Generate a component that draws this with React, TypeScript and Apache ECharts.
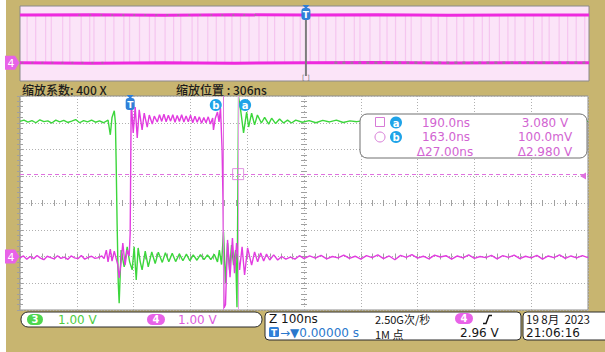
import React, { useEffect, useRef } from "react";
import * as echarts from "echarts";

// Horizontal: 100 ns/div, 10 divisions, left edge 194 ns before trigger.
const NS_PER_DIV = 100;
const SCREEN_LEFT_NS = -194;
const V_MIN = -2;
const V_MAX = 6;

const zoomFactor = "400 X";
const zoomPosition = "306ns";
const ch3Scale = "1.00 V";
const ch4Scale = "1.00 V";
const timeBase = "100ns";
const sampleRate = "2.50G次/秒";
const trigOffset = "0.00000 s";
const memDepth = "1M 点";
const trigLevel = "2.96 V";
const dateText = "19 8月  2023";
const timeText = "21:06:16";

const cursorA = { t: 190.0, v: 3.08 };
const cursorB = { t: 163.0, v: 0.1 };

// CH3 (green) [ns, V]
const ch3Wave: [number, number][] = [
  [-194, 5.05], [-187, 5.1], [-180, 5.02], [-173, 5.08], [-166, 5.0], [-159, 5.11],
  [-152, 5.04], [-145, 5.07], [-138, 4.99], [-131, 5.1], [-124, 5.03], [-117, 5.09],
  [-110, 5.01], [-103, 5.06], [-96, 5.12], [-89, 5.0], [-82, 5.08], [-75, 5.03],
  [-68, 5.1], [-61, 5.02], [-54, 5.07], [-47, 5.0],
  [-39, 5.1], [-35, 4.55], [-32, 5.2], [-28, 5.45], [-26, 5.0], [-24.7, 3.5], [-23, 1.2], [-21, -1.0], [-19.4, -1.75],
  [-16, 0.24], [-10.6, -0.39], [-5.3, 0.36], [-1, -0.2], [3.5, -0.5], [7, 0.36], [10.6, -0.88], [14, 0.32],
  [17.7, -0.2], [21, -0.5], [26.5, 0.2], [31.8, -0.39], [38, 0.17], [44, -0.26], [49.5, 0.16], [56.5, -0.22],
  [62, 0.14], [68, -0.2], [74, 0.12], [80, -0.19], [86.6, 0.1], [92.8, -0.16], [99, 0.09], [105, -0.16],
  [111, 0.06], [117.5, -0.14], [123.7, 0.07], [130, -0.12], [136, 0.06], [142, -0.12], [148, 0.08], [153.7, -0.2],
  [157, 0.24], [160.8, -0.3], [164.3, 0.92], [167.8, -1.0], [171.4, 0.5], [175, -0.5], [178.4, 0.43], [182, -0.32],
  [185.5, 0.24], [188, -1.9], [190.8, 5.96], [194, 5.55], [199.6, 4.62], [205, 5.4], [208.5, 4.84], [213.8, 5.36],
  [219, 4.92], [224, 5.29], [231, 4.99], [236.7, 5.2], [243.8, 4.95], [249, 5.17], [256, 4.97], [263, 5.14],
  [270, 4.99], [277, 5.1], [284, 4.99], [291.5, 5.1], [303, 5.02], [315, 5.08], [327, 5.0], [339, 5.09],
  [351, 5.03], [363, 5.1], [375, 5.01], [387, 5.07], [399, 5.04], [411, 5.08], [450, 5.05], [550, 5.05],
  [650, 5.05], [806, 5.05],
];

// CH4 (magenta) [ns, V]
const ch4Wave: [number, number][] = [
  [-194, -0.05], [-188, 0.02], [-182, -0.1], [-176, 0.0], [-170, -0.08], [-164, 0.04], [-158, -0.06],
  [-152, -0.12], [-146, 0.01], [-140, -0.04], [-134, -0.09], [-128, 0.03], [-122, -0.07], [-116, -0.02],
  [-110, -0.11], [-104, 0.02], [-98, -0.05], [-92, -0.08], [-86, 0.04], [-80, -0.1], [-74, -0.03],
  [-68, 0.01], [-62, -0.07], [-56, -0.04], [-50, 0.02], [-46, -0.08],
  [-42, 0.24], [-39, -0.2], [-35, 0.28], [-32, -0.17], [-28, 0.2], [-25, -0.05], [-22, -0.3], [-19.4, -0.8],
  [-16, -0.2], [-13, 0.5], [-9, -0.32], [-5.3, 0.24], [-1.8, 0.02], [0, 0.88], [1.8, 5.85], [5.3, 4.62],
  [8.8, 5.59], [12.4, 4.43], [15.9, 5.48], [21, 4.73], [24.7, 5.36], [30, 4.84], [33.6, 5.29], [38.9, 4.95],
  [42.4, 5.25], [47.7, 5.03], [51.6, 5.3], [55.5, 5.05], [59.4, 5.32], [63.3, 5.04], [67.2, 5.28], [71.1, 5.06],
  [75, 5.3], [78.9, 5.02], [82.8, 5.27], [86.7, 5.05], [90.6, 5.3], [94.5, 5.03], [98.4, 5.25], [102.3, 5.04],
  [106.2, 5.28], [110.1, 5.0], [114, 5.24], [117.9, 5.02], [121.8, 5.22], [125.7, 4.98], [129.6, 5.2],
  [133.5, 5.0], [137.4, 5.22], [141.3, 4.95], [145.2, 5.18], [146.6, 4.73], [150, 5.18], [153.7, 5.4],
  [156.4, 5.03], [159, 5.55], [161.8, 3.98], [163.4, 2.1], [165.2, -1.92], [167.8, -1.8], [171.4, 0.62],
  [175.8, -0.77], [180, 0.69], [183.7, -0.62], [187.3, 0.5], [192.6, -0.5], [197, 0.36], [201.4, -0.69],
  [206.7, 0.32], [213.8, -0.32], [219, 0.17], [224.4, -0.2], [229.7, 0.13], [235, -0.17], [240, 0.09],
  [245.6, -0.13], [252.7, 0.06], [259.7, -0.13], [266.8, 0.0], [274, -0.1],
  [282, -0.02], [290, -0.1], [298, 0.03], [306, -0.08], [316, 0.02], [326, -0.06], [336, 0.04], [346, -0.09],
  [356, 0.0], [366, -0.05], [376, 0.05], [386, -0.07], [396, 0.01], [406, -0.1], [416, 0.03], [426, -0.04],
  [436, 0.06], [446, -0.08], [456, 0.02], [466, -0.12], [476, 0.04], [486, -0.03], [496, 0.07], [506, -0.06],
  [516, 0.01], [526, -0.09], [536, 0.05], [546, -0.02], [556, 0.03], [566, -0.1], [576, 0.02], [586, -0.05],
  [596, 0.06], [606, -0.07], [616, 0.0], [626, -0.04], [636, 0.04], [646, -0.09], [656, 0.03], [666, -0.03],
  [676, 0.05], [686, -0.08], [696, 0.01], [706, -0.05], [716, 0.04], [726, -0.1], [736, 0.02], [746, -0.04],
  [756, 0.06], [766, -0.07], [776, 0.02], [786, -0.05], [796, 0.03], [806, -0.04],
];

// Overview window (µs): edge times of the compressed CH4 record
const overviewEdgesUs = [
  -196, -190, -183, -179, -171, -166, -158, -152, -149, -141, -135, -128, -124, -117, -110, -106,
  -99, -93, -88, -80, -76, -69, -63, -57, -52, -46, -40, -33, -27, -22, -15, -9, -4, 3, 9, 14, 21,
  27, 34, 38, 45, 52, 57, 63, 70, 74, 81, 88, 93, 99, 106, 111, 118, 124, 129, 136, 142, 147, 154,
  160, 166, 171, 178, 184, 190, 196,
];
const overviewHigh: [number, number][] = [
  [-201, 5.0], [-150, 5.04], [-100, 4.98], [-50, 5.03], [0, 5.0], [50, 5.04], [100, 4.98], [150, 5.02], [199, 5.0],
];
const overviewLow: [number, number][] = [
  [-201, 0.0], [-150, -0.04], [-100, 0.02], [-50, -0.03], [0, 0.0], [50, 0.03], [100, -0.02], [150, 0.02], [199, 0.0],
];

const FONT = '"DejaVu Sans", "Noto Sans CJK SC", sans-serif';
const CJK = '"Noto Sans CJK SC", "DejaVu Sans", sans-serif';
const GREEN = "#3cd63c";
const MAGENTA = "#e23ce0";
const CURSOR_TXT = "#d264d2";
const BLUE_DOT = "#1fa3e8";

const toDiv = (t: number) => (t - SCREEN_LEFT_NS) / NS_PER_DIV;

const tickAxis = {
  axisLine: { show: false },
  axisLabel: { show: false },
  axisTick: { show: true, inside: true, length: 3, lineStyle: { color: "#a0a0a0" } },
  minorTick: { show: true, splitNumber: 5, length: 3, lineStyle: { color: "#a0a0a0" } },
  splitLine: { show: false },
};

function buildOption(): any {
  const stripes: [number, number][] = [];
  overviewEdgesUs.forEach((e, i) => {
    if (i % 2 === 0) stripes.push([e, 0], [e, 5]);
    else stripes.push([e, 5], [e, 0]);
  });
  const xMain = { gridIndex: 1, type: "value", min: 0, max: 10, interval: 1 };
  const yMain = { gridIndex: 1, type: "value", min: V_MIN, max: V_MAX, interval: 1 };
  const dotted = { show: true, lineStyle: { color: "#b0b0b0", type: [1, 2], width: 1 } };
  return {
    animation: false,
    backgroundColor: "#c8b570",
    grid: [
      { left: 20, top: 6, width: 569, height: 75, show: true, backgroundColor: "#fbe4f8", borderColor: "#8a8a8a", borderWidth: 1 },
      { left: 20, top: 96, width: 568, height: 214, show: true, backgroundColor: "#ffffff", borderColor: "#8c8c8c", borderWidth: 1 },
    ],
    xAxis: [
      { gridIndex: 0, type: "value", min: -201, max: 199, show: false },
      { ...xMain, position: "bottom", ...tickAxis, splitLine: dotted },
      { ...xMain, position: "top", ...tickAxis },
      { ...xMain, position: "bottom", offset: -107, ...tickAxis },
      { ...xMain, position: "top", offset: -107, ...tickAxis },
    ],
    yAxis: [
      { gridIndex: 0, type: "value", min: -1.9, max: 5.95, show: false },
      { ...yMain, position: "left", ...tickAxis, splitLine: dotted },
      { ...yMain, position: "right", ...tickAxis },
      { ...yMain, position: "left", offset: -284, ...tickAxis },
      { ...yMain, position: "right", offset: -284, ...tickAxis },
    ],
    series: [
      {
        type: "line", xAxisIndex: 0, yAxisIndex: 0, data: stripes, showSymbol: false, silent: true,
        lineStyle: { color: "#f2b8eb", width: 1.2, opacity: 0.7 }, z: 2,
      },
      {
        type: "line", xAxisIndex: 0, yAxisIndex: 0, data: overviewHigh, showSymbol: false, silent: true,
        lineStyle: { color: "#ee2ade", width: 3 }, z: 3,
      },
      {
        type: "line", xAxisIndex: 0, yAxisIndex: 0, data: overviewLow, showSymbol: false, silent: true,
        lineStyle: { color: "#ee2ade", width: 3 }, z: 3,
      },
      {
        type: "line", xAxisIndex: 0, yAxisIndex: 0, data: [[-160, 5], [-30, 5]], showSymbol: false, silent: true,
        lineStyle: { color: "#8f8a8f", width: 2, type: [2, 9], opacity: 0.7 }, z: 4,
      },
      {
        type: "line", xAxisIndex: 0, yAxisIndex: 0, data: [[20, 0], [199, 0]], showSymbol: false, silent: true,
        lineStyle: { color: "#8f8a8f", width: 2.5, type: [3, 5], opacity: 0.8 }, z: 4,
      },
      {
        type: "line", xAxisIndex: 0, yAxisIndex: 0, data: [[-200, 0], [-140, 0]], showSymbol: false, silent: true,
        lineStyle: { color: "#8f8a8f", width: 2, type: [2, 8], opacity: 0.7 }, z: 4,
      },
      {
        // cursor lines
        type: "line", xAxisIndex: 1, yAxisIndex: 1, data: [], z: 1, silent: true,
        markLine: {
          silent: true, symbol: ["none", "none"], label: { show: false },
          data: [
            { xAxis: toDiv(cursorA.t), lineStyle: { color: "#e6a0e6", type: "solid", width: 1 } },
            { xAxis: toDiv(cursorB.t), lineStyle: { color: "#e078e0", type: "solid", width: 1 } },
            { yAxis: cursorA.v, lineStyle: { color: "#e070e0", type: [4, 3], width: 1 } },
          ],
        },
      },
      {
        type: "line", xAxisIndex: 1, yAxisIndex: 1, showSymbol: false, silent: true, z: 3,
        data: ch3Wave.map(([t, v]) => [toDiv(t), v]),
        lineStyle: { color: GREEN, width: 1.4 },
      },
      {
        type: "line", xAxisIndex: 1, yAxisIndex: 1, showSymbol: false, silent: true, z: 4,
        data: ch4Wave.map(([t, v]) => [toDiv(t), v]),
        lineStyle: { color: MAGENTA, width: 1.4 },
      },
      {
        type: "scatter", xAxisIndex: 1, yAxisIndex: 1, silent: true, z: 5,
        data: [[toDiv(cursorA.t), cursorA.v]], symbol: "rect", symbolSize: 11,
        itemStyle: { color: "rgba(0,0,0,0)", borderColor: "#d87ad8", borderWidth: 1 },
      },
    ],
  };
}

function txt(x: number, y: number, text: string, fill: string, opts: any = {}) {
  const align = opts.align || "left";
  const size = opts.size || 12;
  return {
    type: "text", x, y, z: 70, silent: true,
    style: {
      text, fill,
      font: `${opts.weight || "normal"} ${size}px ${opts.family || FONT}`,
      lineHeight: size,
      align, textAlign: align, verticalAlign: "middle", textVerticalAlign: "middle",
    },
  };
}

function pill(x: number, y: number, w: number, color: string, label: string) {
  return [
    { type: "rect", z: 60, silent: true, shape: { x, y, width: w, height: 11, r: 5.5 }, style: { fill: color } },
    txt(x + w / 2, y + 5.8, label, "#ffffff", { size: 10, weight: "bold", align: "center" }),
  ];
}

function dot(cx: number, cy: number, label: string) {
  return [
    { type: "circle", z: 60, silent: true, shape: { cx, cy, r: 6 }, style: { fill: BLUE_DOT } },
    txt(cx, cy + 0.5, label, "#ffffff", { size: 10, weight: "bold", align: "center" }),
  ];
}

function tPin(cx: number, top: number) {
  return [
    { type: "polygon", z: 61, silent: true, shape: { points: [[cx - 3.5, top], [cx + 3.5, top], [cx, top + 4]] }, style: { fill: "#2f7fd8" } },
    { type: "rect", z: 61, silent: true, shape: { x: cx - 4.5, y: top + 3, width: 9, height: 12, r: 3 }, style: { fill: "#2f7fd8" } },
    txt(cx, top + 9.5, "T", "#ffffff", { size: 9, weight: "bold", align: "center" }),
  ];
}

function chMarker(y: number) {
  return [
    {
      type: "polygon", z: 61, silent: true,
      shape: { points: [[5, y - 7], [15, y - 7], [19.5, y], [15, y + 7], [5, y + 7]] },
      style: { fill: "#e862e8" },
    },
    txt(11, y + 0.5, "4", "#ffffff", { size: 11, align: "center" }),
  ];
}

function buildGraphic(chart: any): any[] {
  const main = (x: number, y: number) => chart.convertToPixel({ gridIndex: 1 }, [x, y]);
  const ov = (x: number, y: number) => chart.convertToPixel({ gridIndex: 0 }, [x, y]);
  const [tX, plotTop] = main(toDiv(0), V_MAX);
  const [, gnd] = main(0, 0);
  const [aX] = main(toDiv(cursorA.t), 0);
  const [bX] = main(toDiv(cursorB.t), 0);
  const [rightX, curY] = main(10, cursorA.v);
  const [ovT, ovGnd] = ov(0, 0);

  const dt = (cursorA.t - cursorB.t).toFixed(2);
  const dv = (cursorA.v - cursorB.v).toFixed(3);
  const fmtV = (v: number) => (Math.abs(v) < 1 ? `${(v * 1000).toFixed(1)}mV` : `${v.toFixed(3)} V`);

  return [
    { type: "rect", z: 0, silent: true, shape: { x: 0, y: 0, width: 6, height: 352 }, style: { fill: "#ffffff" } },
    // zoom info row
    txt(22, 89, `缩放系数: ${zoomFactor}`, "#1c1c1c", { family: CJK, size: 12, weight: 500 }),
    txt(176, 89, `缩放位置 : ${zoomPosition}`, "#1c1c1c", { family: CJK, size: 12, weight: 500 }),
    // overview trigger
    { type: "line", z: 60, silent: true, shape: { x1: ovT, y1: 20, x2: ovT, y2: 76 }, style: { stroke: "#7c7c7c", lineWidth: 2 } },
    ...tPin(ovT, 5),
    txt(ovT, 78, "[ ]", "#808080", { size: 7, align: "center" }),
    ...chMarker(ovGnd),
    ...chMarker(gnd),
    // main trigger and cursor tags
    ...tPin(tX, plotTop - 1),
    ...dot(bX - 7, plotTop + 9, "b"),
    ...dot(aX + 7, plotTop + 9, "a"),
    {
      type: "polygon", z: 61, silent: true,
      shape: { points: [[rightX - 8, curY + 2], [rightX - 2, curY - 1.5], [rightX - 2, curY + 5.5]] },
      style: { fill: "#e070e0" },
    },
    // cursor readout
    { type: "rect", z: 55, silent: true, shape: { x: 360, y: 114, width: 227, height: 44, r: 7 }, style: { fill: "#ffffff", stroke: "#707070", lineWidth: 1 } },
    { type: "rect", z: 60, silent: true, shape: { x: 375.5, y: 117.5, width: 9, height: 9 }, style: { fill: "none", stroke: "#d77ad7", lineWidth: 1 } },
    { type: "circle", z: 60, silent: true, shape: { cx: 380, cy: 137, r: 5 }, style: { fill: "none", stroke: "#d77ad7", lineWidth: 1 } },
    ...dot(396, 122.5, "a"),
    ...dot(396, 137, "b"),
    txt(446, 122.5, `${cursorA.t.toFixed(1)}ns`, CURSOR_TXT, { align: "center" }),
    txt(545, 122.5, fmtV(cursorA.v), CURSOR_TXT, { align: "center" }),
    txt(446, 137, `${cursorB.t.toFixed(1)}ns`, CURSOR_TXT, { align: "center" }),
    txt(545, 137, fmtV(cursorB.v), CURSOR_TXT, { align: "center" }),
    txt(445, 151.5, `Δ${dt}ns`, CURSOR_TXT, { align: "center" }),
    txt(545, 151.5, `Δ${dv} V`, CURSOR_TXT, { align: "center" }),
    // channel bar
    { type: "rect", z: 55, silent: true, shape: { x: 21, y: 312, width: 241, height: 15, r: 7 }, style: { fill: "#ffffff", stroke: "#2a2a2a", lineWidth: 1 } },
    ...pill(27, 314, 16, "#4ed64e", "3"),
    txt(58, 319.5, ch3Scale, "#4fcc3f"),
    ...pill(147, 314, 18, "#e862e8", "4"),
    txt(178, 319.5, ch4Scale, "#dd5add"),
    // timebase / trigger bar
    { type: "rect", z: 55, silent: true, shape: { x: 265, y: 312, width: 256, height: 28, r: 4 }, style: { fill: "#ffffff", stroke: "#2a2a2a", lineWidth: 1 } },
    txt(269, 319, `Z ${timeBase}`, "#151515"),
    txt(375, 318.5, sampleRate, "#151515", { family: CJK, size: 11 }),
    { type: "rect", z: 72, silent: true, shape: { x: 437.5, y: 313, width: 14, height: 11 }, style: { fill: "#ffffff" } },
    { type: "rect", z: 60, silent: true, shape: { x: 269, y: 327, width: 10, height: 10, r: 1.5 }, style: { fill: "#2f7fd8" } },
    txt(274, 332.5, "T", "#ffffff", { size: 9, weight: "bold", align: "center" }),
    txt(280, 332.5, `→▼${trigOffset}`, "#2a78cc"),
    txt(375, 333.5, memDepth, "#151515", { family: CJK, size: 11 }),
    ...pill(455, 313, 18, "#e862e8", "4"),
    {
      type: "polyline", z: 60, silent: true,
      shape: { points: [[483, 323.5], [486, 323.5], [489, 315.5], [492, 315.5]] },
      style: { stroke: "#151515", lineWidth: 1.4, fill: "none" },
    },
    txt(460, 332.5, trigLevel, "#151515"),
    // date bar
    { type: "rect", z: 55, silent: true, shape: { x: 523, y: 312, width: 95, height: 28, r: 4 }, style: { fill: "#ffffff", stroke: "#2a2a2a", lineWidth: 1 } },
    txt(526, 318.5, dateText, "#151515", { family: CJK, size: 11.5 }),
    txt(526, 333, timeText, "#151515"),
  ];
}

export default function App() {
  const ref = useRef<HTMLDivElement>(null);
  useEffect(() => {
    document.body.style.margin = "0";
    const el = ref.current;
    if (!el) return;
    const chart = echarts.init(el, null, { renderer: "svg" });
    chart.setOption(buildOption());
    chart.setOption({ graphic: buildGraphic(chart) });
    return () => chart.dispose();
  }, []);
  return <div ref={ref} style={{ width: 605, height: 352 }} />;
}
